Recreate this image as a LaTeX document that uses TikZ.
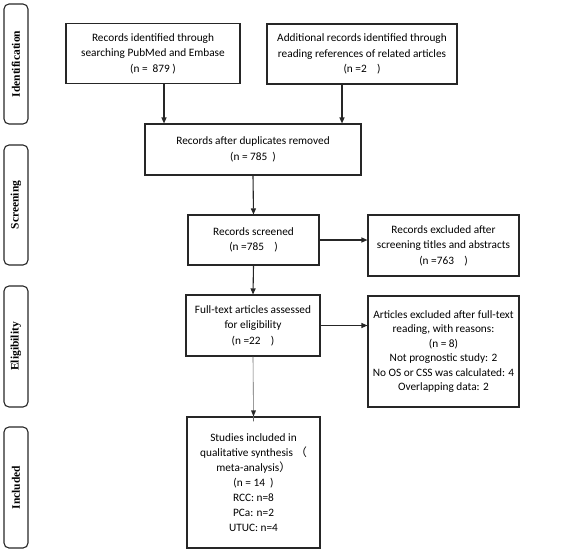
\documentclass[tikz,border=0pt]{standalone}
\usepackage{fontspec}
\setmainfont{Carlito}
\newfontfamily\sidefont{Liberation Serif}
\newfontfamily\cjkfont{Noto Sans CJK SC}
\usetikzlibrary{arrows.meta}
\begin{document}
\begin{tikzpicture}[x=1pt,y=-1pt,
  box/.style={draw=black!85, line width=1.1pt, align=center, inner sep=2pt,
    font=\fontsize{11.3}{15.5}\selectfont},
  side/.style={draw=black!85, line width=1.1pt, rounded corners=5pt, minimum height=24pt,
    font=\sidefont\bfseries\fontsize{11.5}{13}\selectfont, rotate=90},
  arr/.style={draw=black!85, line width=1.1pt, -{Triangle[length=6pt,width=5pt]}}]
\useasboundingbox (0,0) rectangle (570,552);
% side labels
\node[side, minimum width=120pt] (s1) at (16,64) {Identification};
\node[side, minimum width=120pt] (s2) at (16,205) {Screening};
\node[side, minimum width=121pt] (s3) at (16,346.5) {Eligibility};
\node[side, minimum width=121pt] (s4) at (16,487.5) {Included};
% boxes
\node[box, minimum width=174pt, minimum height=60pt] (b1) at (153,53.5)
  {Records identified through\\searching PubMed and Embase\\(n =\ \ 879 )};
\node[box, minimum width=190pt, minimum height=60pt] (b2) at (362,54)
  {Additional records identified through\\reading references of related articles\\(n =2\ \ \ \ )};
\node[box, minimum width=216pt, minimum height=51pt] (b3) at (253,149.5)
  {Records after duplicates removed\\(n = 785\ \ )};
\node[box, minimum width=131pt, minimum height=50pt] (b4) at (253.5,240)
  {Records screened\\(n =785\ \ \ \ )};
\node[box, minimum width=151pt, minimum height=61pt] (b5) at (443.5,245.5)
  {Records excluded after\\screening titles and abstracts\\(n =763\ \ \ \ )};
\node[box, minimum width=134pt, minimum height=61pt] (b6) at (253,325.5)
  {Full-text articles assessed\\for eligibility\\(n =22\ \ \ \ )};
\node[box, minimum width=151pt, minimum height=111pt, font=\fontsize{11.3}{14.5}\selectfont] (b7) at (443.5,351.5)
  {Articles excluded after full-text\\reading, with reasons:\\(n = 8)\\Not prognostic study: 2\\No OS or CSS was calculated: 4\\Overlapping data: 2};
\node[box, minimum width=133pt, minimum height=131pt, font=\fontsize{11.3}{15}\selectfont] (b8) at (253.5,482.5)
  {Studies included in\\qualitative synthesis {\cjkfont （}\\meta-analysis{\cjkfont ）}\\(n = 14\ \ )\\RCC: n=8\\PCa: n=2\\UTUC: n=4};
% connectors
\draw[arr] ([xshift=11pt]b1.south) -- ([xshift=11pt]b1.south |- b3.north);
\draw[arr] ([xshift=-20pt]b2.south) -- ([xshift=-20pt]b2.south |- b3.north);
\draw[arr] (b3.south) -- (b4.north);
\draw[arr] (b4.east) -- (b4.east -| b5.west);
\draw[arr] (b4.south) -- (b6.north);
\draw[arr] (b6.east) -- (b6.east -| b7.west);
\draw[draw=black!60, line width=0.6pt] (b6.south) -- ([yshift=-5pt]b8.north);
\fill[black!85] (b8.north) -- ++(-2.5,-6) -- ++(5,0) -- cycle;
\end{tikzpicture}
\end{document}
